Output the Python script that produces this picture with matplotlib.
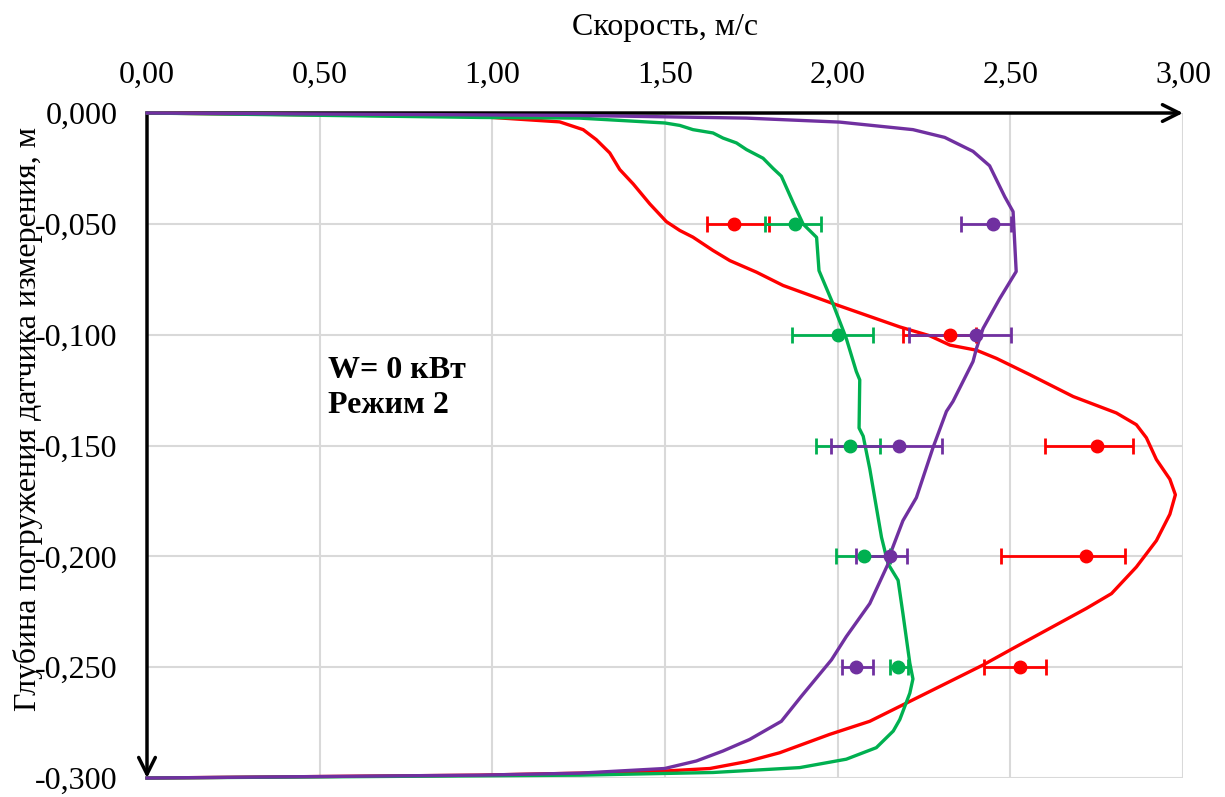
import matplotlib
matplotlib.use("Agg")
import matplotlib.pyplot as plt
from matplotlib.ticker import FuncFormatter, MultipleLocator

plt.rcParams['font.family'] = ['Liberation Serif', 'DejaVu Serif']

# ---- curve data (velocity, depth) ----
red_v = [0, 0.96, 1.195, 1.263, 1.301, 1.34, 1.369, 1.408, 1.456, 1.504, 1.543, 1.581, 1.639, 1.688,
         1.765, 1.842, 1.987, 2.18, 2.267, 2.325, 2.402, 2.46, 2.556, 2.682, 2.807, 2.865, 2.894,
         2.923, 2.962, 2.978, 2.962, 2.923, 2.865, 2.793, 2.72, 2.508, 2.421, 2.354,
         2.093, 1.977, 1.832, 1.736, 1.63, 1.504, 1.253, 0.963, 0]
red_d = [0, -0.0016, -0.004, -0.0075, -0.012, -0.018, -0.0255, -0.032, -0.041, -0.049, -0.053, -0.056,
         -0.062, -0.0666, -0.0718, -0.0778, -0.086, -0.0965, -0.1005, -0.1047, -0.107, -0.1107, -0.118,
         -0.1279, -0.1353, -0.1406, -0.1465, -0.1563, -0.1652, -0.1722, -0.181, -0.1929, -0.2048,
         -0.2168, -0.2235, -0.2415, -0.249, -0.2542, -0.2744, -0.2803, -0.2886,
         -0.2926, -0.2957, -0.2968, -0.2978, -0.2987, -0.3]

green_v = [0, 0.964, 1.253, 1.5, 1.543, 1.581, 1.639, 1.668, 1.707, 1.736, 1.784, 1.813, 1.837, 1.871,
           1.9, 1.939, 1.946, 1.985, 2.025, 2.054, 2.064, 2.062, 2.074, 2.093, 2.127, 2.146, 2.175,
           2.189, 2.209, 2.218, 2.209, 2.18, 2.161, 2.112, 2.025, 1.89, 1.639, 1.253, 0]
green_d = [0, -0.002, -0.0023, -0.0045, -0.0056, -0.0075, -0.009, -0.0113, -0.0135, -0.0165, -0.0204,
           -0.025, -0.0285, -0.0404, -0.0501, -0.0561, -0.0711, -0.0855, -0.1017, -0.1166, -0.1204,
           -0.1421, -0.1458, -0.1605, -0.1914, -0.2034, -0.2108, -0.2258, -0.2482, -0.2553, -0.2617,
           -0.2736, -0.2788, -0.2863, -0.2915, -0.2953, -0.2975, -0.2987, -0.3]

purple_v = [0, 1.253, 1.736, 2.006, 2.218, 2.31, 2.392, 2.44, 2.484, 2.508, 2.517, 2.469, 2.421, 2.402,
            2.392, 2.334, 2.315, 2.276, 2.228, 2.189, 2.156, 2.146, 2.093, 2.025, 1.982, 1.895, 1.837,
            1.745, 1.668, 1.591, 1.499, 1.253, 0.963, 0]
purple_d = [0, -0.0011, -0.0023, -0.0041, -0.0075, -0.011, -0.0173, -0.0238, -0.0378, -0.0445, -0.0715,
            -0.0838, -0.0972, -0.1062, -0.1121, -0.1301, -0.1346, -0.151, -0.1735, -0.1839, -0.1974,
            -0.2034, -0.2213, -0.2362, -0.2467, -0.2631, -0.2744, -0.2826, -0.2878, -0.2923, -0.2957,
            -0.2978, -0.2987, -0.3]

# ---- measured points with error bars ----
pt_depth = [-0.05, -0.10, -0.15, -0.20, -0.25]
red_pt = [1.699, 2.325, 2.751, 2.718, 2.527]
red_lo = [1.622, 2.188, 2.601, 2.473, 2.424]
red_hi = [1.801, 2.400, 2.854, 2.832, 2.604]
green_pt = [1.876, 2.000, 2.037, 2.075, 2.176]
green_lo = [1.791, 1.868, 1.936, 1.995, 2.152]
green_hi = [1.951, 2.103, 2.122, 2.151, 2.204]
purple_pt = [2.450, 2.402, 2.177, 2.151, 2.052]
purple_lo = [2.356, 2.207, 1.982, 2.053, 2.013]
purple_hi = [2.503, 2.502, 2.302, 2.201, 2.102]

x_label = "Скорость, м/с"
y_label = "Глубина погружения датчика измерения, м"
note = "W= 0 кВт\nРежим 2"

RED, GREEN, PURPLE = "#FF0000", "#00B050", "#7030A0"
FS = 23

fig = plt.figure(figsize=(12.25, 7.97), dpi=100)
ax = fig.add_axes([0.1200, 0.0238, 0.8457, 0.8344])
ax.set_xlim(0, 3.0)
ax.set_ylim(-0.3, 0)

ax.xaxis.set_major_locator(MultipleLocator(0.5))
ax.yaxis.set_major_locator(MultipleLocator(0.05))
ax.xaxis.set_major_formatter(FuncFormatter(lambda v, p: f"{v:.2f}".replace(".", ",")))
ax.yaxis.set_major_formatter(FuncFormatter(lambda v, p: f"{v:.3f}".replace(".", ",").replace("-0,000", "0,000")))
ax.xaxis.tick_top()
ax.xaxis.set_label_position('top')
ax.tick_params(axis='both', length=0, labelsize=FS)
ax.tick_params(axis='x', pad=17)
ax.tick_params(axis='y', pad=21)
ax.grid(True, color="#D9D9D9", lw=1.5, zorder=0)
ax.set_axisbelow(True)
for s in ax.spines.values():
    s.set_visible(False)

ax.set_xlabel(x_label, fontsize=FS, labelpad=18)
ax.set_ylabel(y_label, fontsize=FS)
ax.yaxis.set_label_coords(-0.100, 0.54)

# axis arrows
ax.annotate("", xy=(3.0, 0), xytext=(0, 0), xycoords='data',
            arrowprops=dict(arrowstyle='->', lw=2.5, color='black', mutation_scale=30,
                            shrinkA=0, shrinkB=0), annotation_clip=False, zorder=2)
ax.annotate("", xy=(0, -0.3), xytext=(0, 0), xycoords='data',
            arrowprops=dict(arrowstyle='->', lw=2.5, color='black', mutation_scale=30,
                            shrinkA=0, shrinkB=0), annotation_clip=False, zorder=2)

for v, d, c in [(red_v, red_d, RED), (green_v, green_d, GREEN), (purple_v, purple_d, PURPLE)]:
    ax.plot(v, d, color=c, lw=2.4, zorder=3, clip_on=False, solid_joinstyle='round')

for pt, lo, hi, c in [(red_pt, red_lo, red_hi, RED), (green_pt, green_lo, green_hi, GREEN),
                      (purple_pt, purple_lo, purple_hi, PURPLE)]:
    err = [[p - l for p, l in zip(pt, lo)], [h - p for p, h in zip(pt, hi)]]
    ax.errorbar(pt, pt_depth, xerr=err, fmt='o', color=c, ms=9, elinewidth=2, capsize=6,
                capthick=2, zorder=4)

ax.text(0.523, -0.124, note, fontsize=FS, fontweight='bold', va='center', ha='left',
        linespacing=1.25, zorder=5)

fig.savefig("out.png", dpi=100)
